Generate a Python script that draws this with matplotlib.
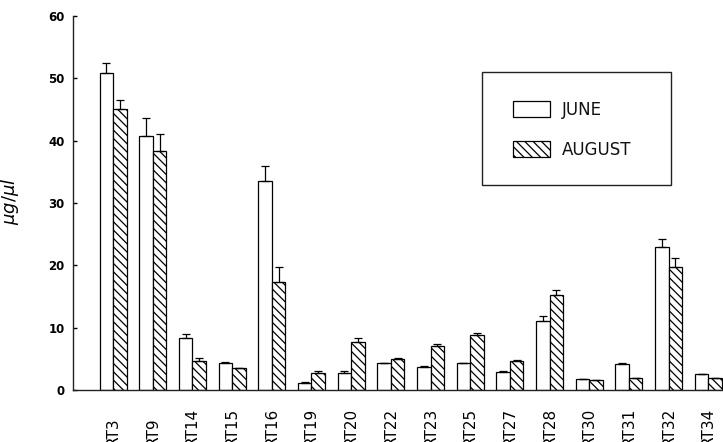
import matplotlib
matplotlib.use('Agg')
import matplotlib.pyplot as plt
import numpy as np
from matplotlib.patches import Rectangle

# values (ug/ul)
sites = ['RT3', 'RT9', 'RT14', 'RT15', 'RT16', 'RT19', 'RT20', 'RT22',
         'RT23', 'RT25', 'RT27', 'RT28', 'RT30', 'RT31', 'RT32', 'RT34']
june = [50.8, 40.8, 8.4, 4.4, 33.6, 1.2, 2.8, 4.3, 3.7, 4.3, 2.9, 11.1, 1.7, 4.1, 23.0, 2.5]
june_err = [1.6, 2.9, 0.6, 0.1, 2.3, 0.1, 0.2, 0.1, 0.1, 0.1, 0.1, 0.7, 0.05, 0.2, 1.3, 0.1]
august = [45.1, 38.3, 4.7, 3.5, 17.3, 2.8, 7.7, 5.0, 7.05, 8.8, 4.7, 15.2, 1.6, 1.9, 19.8, 1.9]
august_err = [1.4, 2.7, 0.5, 0.1, 2.5, 0.2, 0.7, 0.1, 0.3, 0.4, 0.1, 0.8, 0.05, 0.1, 1.3, 0.1]

W, H = 723, 442
fig = plt.figure(figsize=(W / 100, H / 100), dpi=100)
ax = fig.add_axes([73 / W, 1 - 390 / H, (W - 73) / W, (390 - 16) / H])

x = np.arange(len(sites))
w = 0.34
plt.rcParams['hatch.linewidth'] = 0.9

ax.bar(x - w / 2, june, w, color='white', edgecolor='black', linewidth=0.9,
       yerr=[np.zeros(len(june)), june_err], capsize=3,
       error_kw=dict(ecolor='black', elinewidth=0.9, capthick=0.9), label='JUNE')
ax.bar(x + w / 2, august, w, color='white', edgecolor='black', linewidth=0.9,
       hatch='\\\\\\\\', yerr=[np.zeros(len(august)), august_err], capsize=3,
       error_kw=dict(ecolor='black', elinewidth=0.9, capthick=0.9), label='AUGUST')

ax.set_xlim(-1.01, 15.37)
ax.set_ylim(0, 60)
ax.set_yticks(range(0, 61, 10))
ax.spines['top'].set_visible(False)
ax.spines['right'].set_visible(False)
for s in ['left', 'bottom']:
    ax.spines[s].set_color('#222222')
    ax.spines[s].set_linewidth(1.0)

ax.tick_params(axis='y', direction='in', length=3, width=1, pad=6, labelsize=8.5)
for lab in ax.get_yticklabels():
    lab.set_fontweight('bold')

ax.set_xticks(x)
ax.set_xticklabels(sites, fontsize=11)
ax.tick_params(axis='x', length=0, pad=40)
for lab in ax.get_xticklabels():
    lab.set_rotation(90)
    lab.set_rotation_mode('anchor')
    lab.set_ha('left')
    lab.set_va('center')

ax.set_ylabel(r'$\mu g/\mu l$', fontsize=13)
ax.yaxis.set_label_coords(-0.08, 0.505)

leg = ax.legend(loc='upper left', bbox_to_anchor=(513 / W, 1 - 101 / H),
                bbox_transform=fig.transFigure, frameon=False, fontsize=12,
                handlelength=2.2, handleheight=1.08, handletextpad=0.75,
                labelspacing=1.32, borderpad=0, borderaxespad=0)
for t in leg.get_texts():
    t.set_color('#111111')

# legend frame
fig.patches.append(Rectangle((482 / W, 1 - 185 / H), (671 - 482) / W, (185 - 72) / H,
                             transform=fig.transFigure, fill=False,
                             edgecolor='#222222', linewidth=1.0))

fig.savefig('out.png', dpi=100)
